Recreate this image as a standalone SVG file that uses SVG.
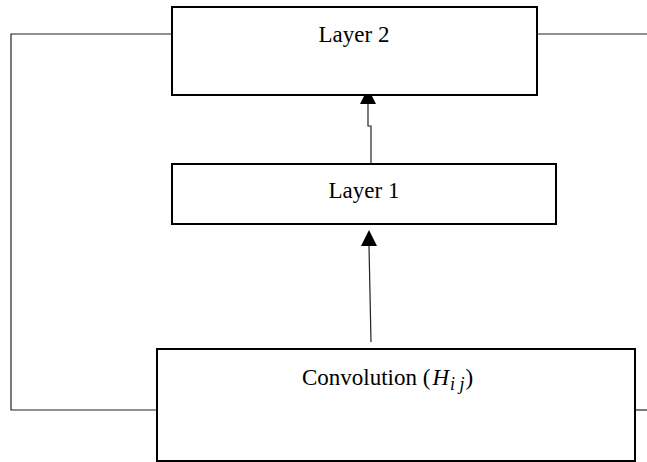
<svg xmlns="http://www.w3.org/2000/svg" width="647" height="462" viewBox="0 0 647 462">
<style>
.box{fill:#fff;stroke:#000;stroke-width:2}
.ln{fill:none;stroke:#222;stroke-width:1.2}
.t{font-family:"Liberation Serif",serif;font-size:23px;fill:#000}
</style>
<g id="connectors">
<polyline class="ln" points="172,34 11,34 11,410 157,410"/>
<line class="ln" x1="537" y1="34" x2="647" y2="34"/>
<line class="ln" x1="635" y1="410" x2="647" y2="410"/>
<polyline class="ln" points="371,164 371,126 368,126 368,104"/>
<path d="M360,104 L368,88 L376,104 Z" fill="#000"/>
<line class="ln" x1="371" y1="342" x2="369" y2="246"/>
<path d="M361,246 L369,230 L377,246 Z" fill="#000"/>
</g>
<g id="layer2">
<rect class="box" x="172" y="7" width="365" height="88"/>
<text class="t" x="354" y="42" text-anchor="middle">Layer 2</text>
</g>
<g id="layer1">
<rect class="box" x="172" y="164" width="384" height="60"/>
<text class="t" x="364" y="198" text-anchor="middle">Layer 1</text>
</g>
<g id="convolution">
<rect class="box" x="157" y="349" width="478" height="112"/>
<text class="t" x="302" y="385" font-size="24">Convolution (<tspan font-style="italic" dx="2">H</tspan><tspan font-style="italic" font-size="18" dy="5" dx="1">i j</tspan><tspan dy="-5" dx="1">)</tspan></text>
</g>
</svg>
